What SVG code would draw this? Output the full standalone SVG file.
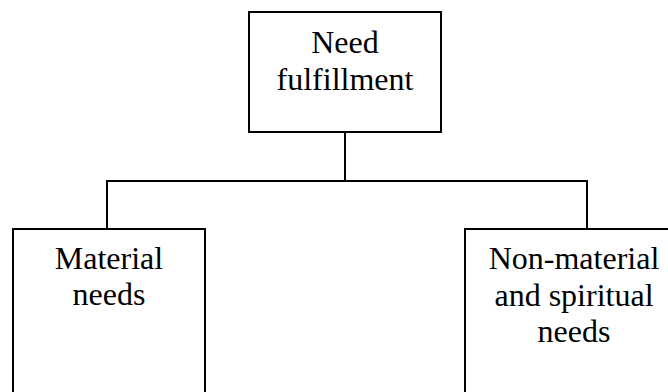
<svg xmlns="http://www.w3.org/2000/svg" width="668" height="392" viewBox="0 0 668 392">
<style>
.box{fill:#fff;stroke:#000;stroke-width:2}
.ln{fill:none;stroke:#000;stroke-width:2}
text{font-family:"Liberation Serif","Times New Roman",serif;font-size:32px;fill:#000;text-anchor:middle}
</style>
<rect width="668" height="392" fill="#fff"/>
<g id="connectors">
<line class="ln" x1="345" y1="132" x2="345" y2="181"/>
<line class="ln" x1="106" y1="181" x2="588" y2="181"/>
<line class="ln" x1="107" y1="181" x2="107" y2="229"/>
<line class="ln" x1="587" y1="181" x2="587" y2="229"/>
</g>
<g id="need-fulfillment">
<rect class="box" x="249" y="12" width="192" height="120"/>
<text x="345" y="53">Need</text>
<text x="345" y="90">fulfillment</text>
</g>
<g id="material-needs">
<rect class="box" x="13" y="229" width="192" height="180"/>
<text x="109" y="269">Material</text>
<text x="109" y="305">needs</text>
</g>
<g id="non-material-needs">
<rect class="box" x="465" y="229" width="218" height="180"/>
<text x="574" y="269">Non-material</text>
<text x="574" y="305.5">and spiritual</text>
<text x="574" y="342">needs</text>
</g>
</svg>
